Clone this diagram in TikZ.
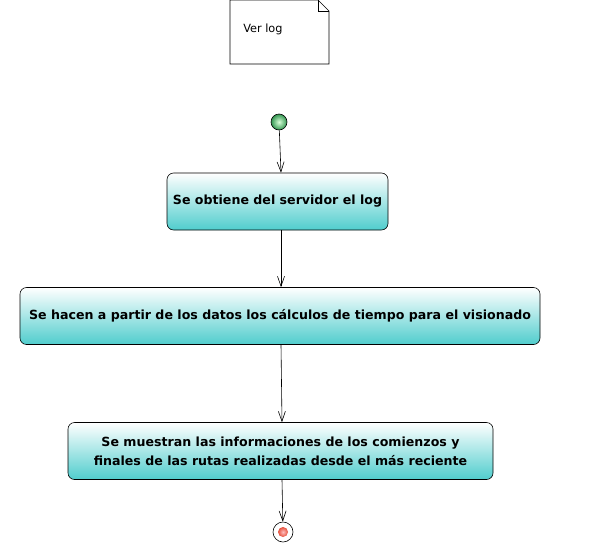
\documentclass[tikz,border=0pt]{standalone}
\usepackage{fontspec}
\setmainfont{DejaVu Sans}
\usepackage{tikz}
\usetikzlibrary{arrows.meta,shapes,calc}
\definecolor{actteal}{RGB}{80,205,205}
\definecolor{startgreen}{RGB}{50,150,80}
\definecolor{endred}{RGB}{230,80,60}

\begin{document}
\begin{tikzpicture}[x=1pt, y=-1pt, line width=0.6pt,
action/.style={rectangle,draw,rounded corners=1.2ex,top color=white,bottom color=actteal,
  font=\bfseries\fontsize{12.6}{19}\selectfont,align=center,minimum height=57pt,inner sep=2pt},
flow/.style={draw=black,-{Straight Barb[length=10pt,width=7pt]}},
%% note/.style = {shape=tape, draw}
]
\useasboundingbox (0,0) rectangle (604,549);

% nota
\draw (230,0) -- (318,0) -- (329,11) -- (329,64) -- (230,64) -- cycle;
\draw (318,0) -- (318,11) -- (329,11);
\node[anchor=west, font=\fontsize{11.3}{13}\selectfont, inner sep=0pt] (note) at (243,29) {Ver log};

\node[circle,draw,minimum size=16pt,inner sep=0pt,inner color=green!15,outer color=startgreen] (start) at (279,122) {};
\node[action, minimum width=221pt] (obtener) at (277.5,201.5) {\raisebox{-1pt}{Se obtiene del servidor el log}};
\node[action, minimum width=520pt] (calculos) at (280,316) {\raisebox{-1pt}{Se hacen a partir de los datos los cálculos de tiempo para el visionado}};
\node[action, minimum width=425pt] (mostrar) at (280.5,451) {Se muestran las informaciones de los comienzos y\\finales de las rutas realizadas desde el más reciente};
\node[circle,draw,minimum size=20pt,inner sep=0pt,fill=white] (final) at (283,532) {};
\node[circle,minimum size=10pt,inner sep=0pt,inner color=red!25,outer color=endred] (finalin) at (final) {};

\draw[flow] (start) -- (obtener.north -| 281,0);
\draw[flow] (obtener.south -| 281,0) -- (calculos.north -| 281,0);
\draw[flow] (calculos.south -| 281,0) -- (mostrar.north -| 282,0);
\draw[flow] (mostrar.south -| 282,0) -- (final);
\end{tikzpicture}
\end{document}
